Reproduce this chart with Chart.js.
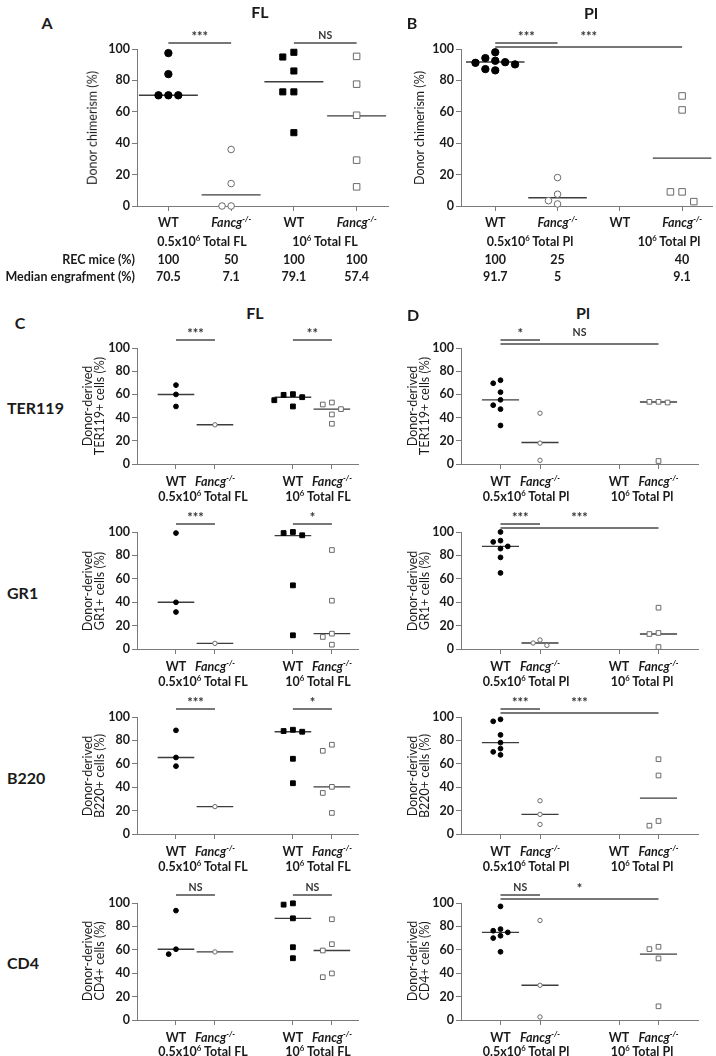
<!DOCTYPE html>
<html>
<head>
<meta charset="utf-8">
<script src="https://cdn.jsdelivr.net/npm/chart.js@4.4.0/dist/chart.umd.min.js"></script>
<style>
  body { margin: 0; background: #fff; }
  #fig { position: relative; width: 716px; height: 1056px; overflow: hidden;
         font-family: Lato, "Open Sans", sans-serif; color: #1a1a1a; }
  .t { position: absolute; white-space: nowrap; line-height: 1; }
  canvas { position: absolute; }
  sup { font-size: 0.62em; vertical-align: 0; position: relative; top: -0.6em; }
</style>
</head>
<body>
<div id="fig"></div>
<script>
// groups in every panel: WT 0.5x10^6, Fancg 0.5x10^6, WT 10^6, Fancg 10^6
const groupLabels = ['WT', 'Fancg', 'WT', 'Fancg'];

// A - donor chimerism, FL
const chimFL = [[97.4, 84, 70.5, 70.5, 70.5], [36, 14.3, 0, 0], [97.9, 94.9, 86, 72.7, 72.7, 46.7], [95.3, 77.6, 57.8, 29.2, 12.2]];
const chimFLLine = [70.5, 7.1, 79.1, 57.4];
const chimFLSig = [[0, 1, '***'], [2, 3, 'NS']];
const recFL = ['100', '50', '100', '100'];
const medFL = ['70.5', '7.1', '79.1', '57.4'];

// B - donor chimerism, Pl
const chimPl = [[97.9, 90.2, 92.5, 86.4, 87.2, 91.2, 91.6, 94.2], [18.1, 7.5, 3.4, 1.3], [], [70.1, 61.2, 9, 9, 2.8]];
const chimPlLine = [91.7, 5.3, null, 30.5];
const chimPlSig = [[0, 1, '***'], [0, 3, '***']];
const recPl = ['100', '25', '', '40'];
const medPl = ['91.7', '5', '', '9.1'];

// C / D - lineages
const ter119FL = [[68, 60, 49.6], [33.8], [57.6, 60.2, 59.6, 55, 49.6], [51.3, 53, 47.3, 42.7, 34.7]];
const ter119FLLine = [59.9, 33.8, 57.6, 47.3];
const ter119FLSig = [[0, 1, '***'], [2, 3, '**']];
const ter119Pl = [[69.6, 72.2, 61.9, 55.3, 50.7, 47.3, 33.2], [43.8, 18, 3.2], [], [53.6, 53, 53.6, 2.6]];
const ter119PlLine = [55.3, 18.5, null, 53.5];
const ter119PlSig = [[0, 1, '*'], [0, 3, 'NS']];

const gr1FL = [[99.1, 39.9, 31.6], [4.8], [100, 97.2, 99.1, 54.4, 11.7], [84.6, 41.3, 13.1, 10.3, 3.7]];
const gr1FLLine = [39.9, 4.8, 96.9, 13.1];
const gr1FLSig = [[0, 1, '***'], [2, 3, '*']];
const gr1Pl = [[100, 91.5, 92.6, 85.8, 87.7, 78.3, 65], [7.7, 3.1, 5.1], [], [35.3, 13.7, 12.8, 1.7]];
const gr1PlLine = [87.7, 5.1, null, 12.8];
const gr1PlSig = [[0, 1, '***'], [0, 3, '***']];

const b220FL = [[88.6, 65.4, 58], [23.4], [89.1, 87.4, 88, 64.3, 43.4], [76.3, 71.1, 40.3, 35.1, 18]];
const b220FLLine = [65.4, 23.4, 87.4, 40.3];
const b220FLSig = [[0, 1, '***'], [2, 3, '*']];
const b220Pl = [[98, 96.3, 84.7, 78.1, 73, 70.2, 67.6], [28.4, 16.8, 8.2], [], [63.9, 50, 7.1, 11.1]];
const b220PlLine = [78.1, 16.8, null, 30.7];
const b220PlSig = [[0, 1, '***'], [0, 3, '***']];

const cd4FL = [[93.5, 60.5, 56.3], [58.2], [99.7, 98.6, 86.9, 62.2, 52.8], [86.1, 64.8, 59.4, 36.6, 39.8]];
const cd4FLLine = [60.5, 58.2, 86.9, 59.4];
const cd4FLSig = [[0, 1, 'NS'], [2, 3, 'NS']];
const cd4Pl = [[97.1, 76.3, 77.7, 72, 74.9, 70, 58.3], [85.1, 29.7, 2.6], [], [60.6, 62.6, 52.6, 11.7]];
const cd4PlLine = [74.9, 29.7, null, 56.3];
const cd4PlSig = [[0, 1, 'NS'], [0, 3, '*']];

const rowNames = ['TER119', 'GR1', 'B220', 'CD4'];
const yTicks = [0, 20, 40, 60, 80, 100];

const FONT = 'Lato, "Open Sans", sans-serif';
const axisCol = '#7a7a7a';
const fig = document.getElementById('fig');

function txt(html, x, y, size, bold, anchor, rot) {
  const d = document.createElement('div');
  d.className = 't';
  d.innerHTML = html;
  d.style.left = x + 'px';
  d.style.top = y + 'px';
  d.style.fontSize = size + 'px';
  d.style.fontWeight = bold ? 'bold' : 'normal';
  let tr = anchor === 'r' ? 'translate(-100%,-50%)' : anchor === 'l' ? 'translate(0,-50%)' : 'translate(-50%,-50%)';
  if (rot) tr += ' rotate(-90deg)';
  d.style.transform = tr;
  fig.appendChild(d);
}

function catHtml(name) {
  return name === 'Fancg' ? '<i>Fancg<sup>-/-</sup></i>' : name;
}

// spread points of similar value sideways
function swarm(vals, c, pxX, pxY, d) {
  const placed = [];
  const step = d + 1.5;
  vals.slice().sort((p, q) => q - p).forEach(v => {
    for (let k = 0; k < 20; k++) {
      const off = (k === 0 ? 0 : (k % 2 ? -1 : 1) * Math.ceil(k / 2)) * step;
      const hit = placed.some(p => Math.abs(p.v - v) * pxY < d && Math.abs(p.dx - off) < d * 0.9);
      if (!hit) { placed.push({ dx: off, v: v }); break; }
    }
  });
  return placed.map(p => ({ x: c + p.dx / pxX, y: p.v }));
}

const sigPlugin = {
  id: 'sig',
  afterDraw(chart, args, opts) {
    const { ctx, chartArea, scales } = chart;
    const done = [];
    opts.items.forEach(([a, b, label]) => {
      const level = done.filter(p => !(b < p[0] || a > p[1])).length;
      done.push([a, b]);
      const x1 = scales.x.getPixelForValue(opts.cats[a]);
      const x2 = scales.x.getPixelForValue(opts.cats[b]);
      const y = chartArea.top - opts.gap + level * 4;
      ctx.save();
      ctx.strokeStyle = '#4a4a4a';
      ctx.lineWidth = 1.6;
      ctx.beginPath();
      ctx.moveTo(x1, y);
      ctx.lineTo(x2, y);
      ctx.stroke();
      ctx.fillStyle = '#333';
      const stars = label.indexOf('*') >= 0;
      ctx.font = 'bold ' + (stars ? 13 : 10.5) + 'px ' + FONT;
      ctx.textAlign = 'center';
      ctx.textBaseline = 'bottom';
      ctx.fillText(label, (x1 + x2) / 2, chartArea.top - opts.gap - (stars ? 0 : 2));
      ctx.restore();
    });
  }
};

function panel(def) {
  const [l, t, r, b] = def.plot;
  const padL = 45, padT = 32, padR = 6, padB = 10;
  const cv = document.createElement('canvas');
  cv.width = r - l + padL + padR;
  cv.height = b - t + padT + padB;
  cv.style.left = (l - padL) + 'px';
  cv.style.top = (t - padT) + 'px';
  fig.appendChild(cv);

  const pxX = (r - l) / (def.xr[1] - def.xr[0]);
  const pxY = (b - t) / 100;
  const rad = def.big ? [3.7, 3.3, 4.3, 4.6] : [2.4, 2.2, 3.4, 3.3];
  const datasets = [];
  def.data.forEach((vals, gi) => {
    const c = def.cats[gi];
    if (def.lines[gi] !== null) {
      datasets.push({
        type: 'line', showLine: true, order: 2,
        data: [{ x: c - 0.47, y: def.lines[gi] }, { x: c + 0.47, y: def.lines[gi] }],
        borderColor: '#3c3c3c', borderWidth: 1.4, pointRadius: 0, clip: false
      });
    }
    if (!vals.length) return;
    const filled = gi % 2 === 0;
    datasets.push({
      order: 1, clip: false,
      data: swarm(vals, c, pxX, pxY, 2 * rad[gi] + 1),
      pointStyle: gi < 2 ? 'circle' : 'rect',
      pointRadius: rad[gi],
      backgroundColor: filled ? '#000' : '#fff',
      borderColor: filled ? '#000' : '#6a6a6a',
      borderWidth: 1
    });
  });

  new Chart(cv, {
    type: 'scatter',
    data: { datasets: datasets },
    plugins: [sigPlugin],
    options: {
      responsive: false,
      animation: false,
      events: [],
      layout: { padding: { top: padT, right: padR, left: 0, bottom: 0 } },
      plugins: {
        legend: { display: false },
        tooltip: { enabled: false },
        sig: { items: def.sig, cats: def.cats, gap: def.big ? 6 : 8 }
      },
      scales: {
        x: {
          type: 'linear', min: def.xr[0], max: def.xr[1],
          afterBuildTicks: s => { s.ticks = def.cats.map(v => ({ value: v })); },
          afterFit: s => { s.height = padB; },
          ticks: { display: false },
          grid: { drawOnChartArea: false, drawTicks: true, tickLength: 5, color: axisCol },
          border: { color: axisCol, width: 1 }
        },
        y: {
          min: 0, max: 100,
          afterBuildTicks: s => { s.ticks = yTicks.map(v => ({ value: v })); },
          afterFit: s => { s.width = padL; },
          ticks: { padding: 2, color: '#1a1a1a', font: { family: FONT, size: 12.5, weight: 'bold' } },
          grid: { drawOnChartArea: false, drawTicks: true, tickLength: 5, color: axisCol },
          border: { color: axisCol, width: 1 }
        }
      }
    }
  });

  // category labels under the axis
  def.cats.forEach((c, gi) => {
    const x = l + (c - def.xr[0]) * pxX;
    txt(catHtml(groupLabels[gi]), x, b + def.labY, 12.5, true, 'c');
  });
  return (c) => l + (c - def.xr[0]) * pxX;
}

// ---- panels A and B ----
const pA = panel({ data: chimFL, lines: chimFLLine, sig: chimFLSig, plot: [137, 49, 388, 206], xr: [0.5, 4.5], cats: [1, 2, 3, 4], big: true, labY: 17 });
const pB = panel({ data: chimPl, lines: chimPlLine, sig: chimPlSig, plot: [461, 49, 712, 206], xr: [0.45, 4.48], cats: [1, 2, 3, 4], big: true, labY: 17 });

txt('A', 47, 23, 16, true, 'c');
txt('FL', 260, 12, 16, true, 'c');
txt('B', 412, 23, 16, true, 'c');
txt('Pl', 591, 13, 16, true, 'c');
txt('Donor chimerism (%)', 93, 128, 12.5, false, 'c', true);
txt('Donor chimerism (%)', 420, 128, 12.5, false, 'c', true);
txt('0.5x10<sup>6</sup> Total FL', 202, 242, 12.5, true, 'c');
txt('10<sup>6</sup> Total FL', 325, 242, 12.5, true, 'c');
txt('0.5x10<sup>6</sup> Total Pl', 530, 242, 12.5, true, 'c');
txt('10<sup>6</sup> Total Pl', 669, 242, 12.5, true, 'c');
txt('REC mice (%)', 135, 260, 12.5, true, 'r');
txt('Median engrafment (%)', 135, 277, 12.5, true, 'r');
[1, 2, 3, 4].forEach((c, i) => {
  txt(recFL[i], pA(c), 260, 12.5, true, 'c');
  txt(medFL[i], pA(c), 277, 12.5, true, 'c');
  if (recPl[i]) txt(recPl[i], pB(c), 260, 12.5, true, 'c');
  if (medPl[i]) txt(medPl[i], pB(c), 277, 12.5, true, 'c');
});

// ---- panels C and D ----
txt('C', 20, 323, 16, true, 'c');
txt('FL', 255, 313, 16, true, 'c');
txt('D', 413, 315, 16, true, 'c');
txt('Pl', 583, 313, 16, true, 'c');

const rowsFL = [[ter119FL, ter119FLLine, ter119FLSig], [gr1FL, gr1FLLine, gr1FLSig], [b220FL, b220FLLine, b220FLSig], [cd4FL, cd4FLLine, cd4FLSig]];
const rowsPl = [[ter119Pl, ter119PlLine, ter119PlSig], [gr1Pl, gr1PlLine, gr1PlSig], [b220Pl, b220PlLine, b220PlSig], [cd4Pl, cd4PlLine, cd4PlSig]];
const rowY = [[348, 464], [532, 649], [717, 834], [902.5, 1020]];

rowNames.forEach((name, i) => {
  const [t, b] = rowY[i];
  const mid = (t + b) / 2;
  panel({ data: rowsFL[i][0], lines: rowsFL[i][1], sig: rowsFL[i][2], plot: [137, t, 358, b], xr: [0, 5.67], cats: [1, 2, 4, 5], big: false, labY: 18 });
  panel({ data: rowsPl[i][0], lines: rowsPl[i][1], sig: rowsPl[i][2], plot: [461, t, 698, b], xr: [0, 6], cats: [1, 2, 4, 5], big: false, labY: 18 });
  txt(name, 7, mid + 2, 16, true, 'l');
  txt('Donor-derived', 88, mid, 12.5, false, 'c', true);
  txt(name + '+ cells (%)', 100, mid, 12.5, false, 'c', true);
  txt('Donor-derived', 413, mid, 12.5, false, 'c', true);
  txt(name + '+ cells (%)', 425, mid, 12.5, false, 'c', true);
  const gy = b + (i === 3 ? 32 : 33);
  txt('0.5x10<sup>6</sup> Total FL', 203, gy, 12.5, true, 'c');
  txt('10<sup>6</sup> Total FL', 318, gy, 12.5, true, 'c');
  txt('0.5x10<sup>6</sup> Total Pl', 526, gy, 12.5, true, 'c');
  txt('10<sup>6</sup> Total Pl', 642, gy, 12.5, true, 'c');
});
</script>
</body>
</html>
